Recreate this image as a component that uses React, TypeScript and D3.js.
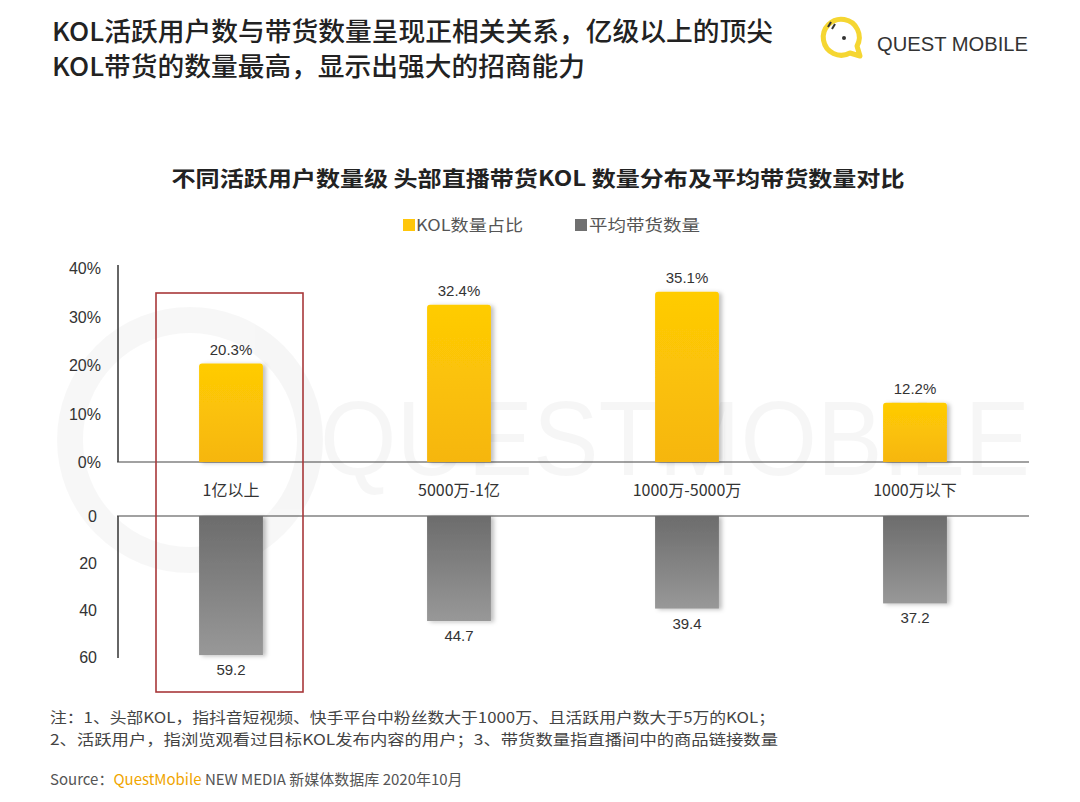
import React from "react";
import * as d3 from "d3";

const categories = ["1亿以上", "5000万-1亿", "1000万-5000万", "1000万以下"];
const kolShare = [20.3, 32.4, 35.1, 12.2];
const avgGoods = [59.2, 44.7, 39.4, 37.2];
const topTicks = [0, 10, 20, 30, 40];
const bottomTicks = [0, 20, 40, 60];
const legendLabels = ["KOL数量占比", "平均带货数量"];

const CJK = "'Noto Sans CJK SC', 'Noto Sans', sans-serif";
const NUM = "'Liberation Sans', Arial, sans-serif";

export default function App() {
  const x = d3.scaleBand<string>().domain(categories).range([117, 1029]).paddingInner(0.72).paddingOuter(0.36);
  const yTop = d3.scaleLinear().domain([0, 40]).range([462, 268]);
  const yBot = d3.scaleLinear().domain([0, 60]).range([516, 657]);
  const bw = x.bandwidth();

  return (
    <svg width={1080} height={802} style={{ position: "absolute", left: 0, top: 0, background: "#fff" }}>
      <defs>
        <linearGradient id="gy" x1="0" y1="0" x2="0" y2="1">
          <stop offset="0" stopColor="#FFCC05" />
          <stop offset="1" stopColor="#F6B60A" />
        </linearGradient>
        <linearGradient id="gg" x1="0" y1="0" x2="0" y2="1">
          <stop offset="0" stopColor="#6c6c6c" />
          <stop offset="1" stopColor="#989898" />
        </linearGradient>
        <filter id="sh" x="-20%" y="-10%" width="140%" height="120%">
          <feDropShadow dx="3" dy="1" stdDeviation="2" floodColor="#000" floodOpacity="0.25" />
        </filter>
      </defs>

      {/* watermark */}
      <g opacity={0.03}>
        <circle cx={190} cy={440} r={120} fill="none" stroke="#000" strokeWidth={26} />
        <text x={320} y={475} fontFamily={NUM} fontSize={105} fill="#000" textLength={710} lengthAdjust="spacingAndGlyphs">QUESTMOBILE</text>
      </g>

      {/* header */}
      <text x={52} y={41} fontFamily={CJK} fontSize={26} fontWeight={500} fill="#222" textLength={721} lengthAdjust="spacingAndGlyphs">KOL活跃用户数与带货数量呈现正相关关系，亿级以上的顶尖</text>
      <text x={52} y={76} fontFamily={CJK} fontSize={26} fontWeight={500} fill="#222" textLength={533} lengthAdjust="spacingAndGlyphs">KOL带货的数量最高，显示出强大的招商能力</text>

      {/* logo */}
      <g>
        <path d="M 857 46 A 18 18 0 1 0 850 53 L 860 56 Z" fill="none" stroke="#F5D632" strokeWidth={5} strokeLinejoin="round" />
        <circle cx={844} cy={38} r={2} fill="#333" />
        <line x1={828} y1={27} x2={831} y2={22} stroke="#333" strokeWidth={2} />
        <line x1={832} y1={29} x2={835} y2={24} stroke="#333" strokeWidth={2} />
        <text x={877} y={51} fontFamily={NUM} fontSize={20} fill="#333" textLength={151} lengthAdjust="spacingAndGlyphs">QUEST MOBILE</text>
      </g>

      {/* chart title */}
      <text x={538} y={186} textAnchor="middle" fontFamily={CJK} fontSize={21} fontWeight={700} fill="#222" textLength={733} lengthAdjust="spacingAndGlyphs">不同活跃用户数量级 头部直播带货KOL 数量分布及平均带货数量对比</text>

      {/* legend */}
      <rect x={403} y={219} width={12} height={12} fill="#FFC60B" />
      <text x={416} y={231} fontFamily={CJK} fontSize={16} fill="#555" textLength={107} lengthAdjust="spacingAndGlyphs">{legendLabels[0]}</text>
      <rect x={575} y={219} width={12} height={12} fill="#707070" />
      <text x={589} y={231} fontFamily={CJK} fontSize={16} fill="#555" textLength={111} lengthAdjust="spacingAndGlyphs">{legendLabels[1]}</text>

      {/* top axis */}
      <line x1={118} y1={yTop(40) - 3} x2={118} y2={yTop(0)} stroke="#333" strokeWidth={1.5} />
      <line x1={117} y1={yTop(0)} x2={1029} y2={yTop(0)} stroke="#444" strokeWidth={1.2} />
      {topTicks.map((t) => (
        <text key={t} x={101} y={yTop(t) + 6} textAnchor="end" fontFamily={NUM} fontSize={16} fill="#333">{t}%</text>
      ))}

      {/* bottom axis */}
      <line x1={118} y1={yBot(0)} x2={118} y2={yBot(60) + 1} stroke="#333" strokeWidth={1.5} />
      <line x1={117} y1={yBot(0)} x2={1029} y2={yBot(0)} stroke="#444" strokeWidth={1.2} />
      {bottomTicks.map((t) => (
        <text key={t} x={97} y={yBot(t) + 6} textAnchor="end" fontFamily={NUM} fontSize={16} fill="#333">{t}</text>
      ))}

      {/* top bars */}
      {categories.map((c, i) => (
        <g key={c}>
          <path
            d={`M ${x(c)!} ${yTop(0)} V ${yTop(kolShare[i]) + 3} Q ${x(c)!} ${yTop(kolShare[i])} ${x(c)! + 3} ${yTop(kolShare[i])} H ${x(c)! + bw - 3} Q ${x(c)! + bw} ${yTop(kolShare[i])} ${x(c)! + bw} ${yTop(kolShare[i]) + 3} V ${yTop(0)} Z`}
            fill="url(#gy)"
            filter="url(#sh)"
          />
          <text x={x(c)! + bw / 2} y={yTop(kolShare[i]) - 9} textAnchor="middle" fontFamily={NUM} fontSize={15} fill="#333">{kolShare[i].toFixed(1)}%</text>
          <text x={x(c)! + bw / 2} y={496} textAnchor="middle" fontFamily={CJK} fontSize={16} fill="#333">{c}</text>
        </g>
      ))}

      {/* bottom bars */}
      {categories.map((c, i) => (
        <g key={c + "b"}>
          <rect x={x(c)!} y={yBot(0)} width={bw} height={yBot(avgGoods[i]) - yBot(0)} fill="url(#gg)" filter="url(#sh)" />
          <text x={x(c)! + bw / 2} y={yBot(avgGoods[i]) + 20} textAnchor="middle" fontFamily={NUM} fontSize={15} fill="#333">{avgGoods[i].toFixed(1)}</text>
        </g>
      ))}

      {/* highlight box */}
      <rect x={156} y={293} width={147} height={399} fill="none" stroke="#A8383A" strokeWidth={1.6} />

      {/* notes */}
      <text x={50} y={723} fontFamily={CJK} fontSize={15} fill="#444" textLength={725} lengthAdjust="spacingAndGlyphs">注：1、头部KOL，指抖音短视频、快手平台中粉丝数大于1000万、且活跃用户数大于5万的KOL；</text>
      <text x={50} y={745} fontFamily={CJK} fontSize={15} fill="#444" textLength={728} lengthAdjust="spacingAndGlyphs">2、活跃用户，指浏览观看过目标KOL发布内容的用户；3、带货数量指直播间中的商品链接数量</text>
      <text x={50} y={785} fontFamily={CJK} fontSize={15} fill="#555">
        <tspan>Source：</tspan>
        <tspan fill="#F0A500">QuestMobile</tspan>
        <tspan> NEW MEDIA 新媒体数据库 2020年10月</tspan>
      </text>
    </svg>
  );
}
